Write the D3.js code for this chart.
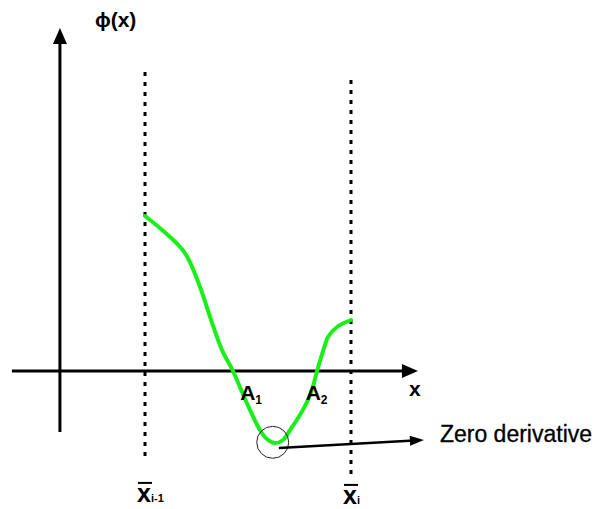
<!DOCTYPE html>
<html>
<head>
<meta charset="utf-8">
<script src="https://cdn.jsdelivr.net/npm/d3@7"></script>
<style>
  body { margin: 0; background: #fff; }
  text { font-family: "Liberation Sans", Arial, sans-serif; fill: #000; }
</style>
</head>
<body>
<div class="chart"></div>
<script>
const WIDTH = 595;
const HEIGHT = 509;

// curve phi(x) between x(i-1) = 0 and x(i) = 10
const curveX = [0, 0.83, 1.94, 2.67, 3.16, 3.74, 4.27, 4.71, 5.10, 5.58, 5.92, 6.31, 6.70, 7.04, 7.52, 7.91, 8.16, 8.35, 8.54, 8.74, 8.88, 9.32, 10];
const curvePhi = [10, 9.10, 7.61, 5.42, 3.48, 1.35, 0, -1.35, -2.52, -3.81, -4.39, -4.65, -4.45, -3.81, -2.84, -1.87, -0.97, 0, 0.84, 1.68, 2.19, 2.84, 3.29];

// axes and guides (data units)
const xAxisExtent = [-6.46, 13.25];
const yAxisAt = -4.13;
const yAxisExtent = [-3.94, 22.13];
const gridX = [0, 10];
const gridLabels = ["i-1", "i"];
const gridExtent = [[-5.87, 19.29], [-6.9, 18.77]];
const gridLabelPhi = [-7.22, -7.35];

// minimum marker + annotation arrow
const minPoint = [6.2, -4.6];
const arrowFrom = [6.5, -4.97];
const arrowTo = [13.54, -4.45];
const annotation = "Zero derivative";

// area labels
const areaLabels = [
  { name: "A", sub: "1", x: 4.62, phi: -1.9 },
  { name: "A", sub: "2", x: 7.8, phi: -1.9 }
];

const xScale = d3.scaleLinear().domain([0, 10]).range([145, 351]);
const yScale = d3.scaleLinear().domain([0, 10]).range([371, 216]);

const svg = d3.select(".chart").append("svg")
  .attr("width", WIDTH)
  .attr("height", HEIGHT);

// arrow head helper: tip at (x,y), pointing along angle
function arrowHead(g, x, y, angle, len, halfW) {
  const c = Math.cos(angle), s = Math.sin(angle);
  const bx = x - c * len, by = y - s * len;
  g.append("path")
    .attr("d", `M${x},${y}L${bx - s * halfW},${by + c * halfW}L${bx + s * halfW},${by - c * halfW}Z`)
    .attr("fill", "#000");
}

// dotted verticals
svg.append("g").selectAll("line")
  .data(gridX)
  .join("line")
  .attr("x1", d => xScale(d))
  .attr("x2", d => xScale(d))
  .attr("y1", (d, i) => yScale(gridExtent[i][1]))
  .attr("y2", (d, i) => yScale(gridExtent[i][0]))
  .attr("stroke", "#000")
  .attr("stroke-width", 3)
  .attr("stroke-dasharray", "4,6");

// axes
const axes = svg.append("g");
axes.append("line")
  .attr("x1", xScale(xAxisExtent[0])).attr("x2", xScale(xAxisExtent[1]) - 10)
  .attr("y1", yScale(0)).attr("y2", yScale(0))
  .attr("stroke", "#000").attr("stroke-width", 3);
arrowHead(axes, xScale(xAxisExtent[1]), yScale(0), 0, 16, 7);

axes.append("line")
  .attr("x1", xScale(yAxisAt)).attr("x2", xScale(yAxisAt))
  .attr("y1", yScale(yAxisExtent[0])).attr("y2", yScale(yAxisExtent[1]) + 10)
  .attr("stroke", "#000").attr("stroke-width", 3);
arrowHead(axes, xScale(yAxisAt), yScale(yAxisExtent[1]), -Math.PI / 2, 16, 7);

// curve
const pts = curveX.map((x, i) => [x, curvePhi[i]]);
svg.append("path")
  .datum(pts)
  .attr("d", d3.line().x(d => xScale(d[0])).y(d => yScale(d[1])).curve(d3.curveCatmullRom.alpha(0.5)))
  .attr("fill", "none")
  .attr("stroke", "#1bef1b")
  .attr("stroke-width", 4)
  .attr("stroke-linecap", "round");

// minimum circle
svg.append("circle")
  .attr("cx", xScale(minPoint[0]))
  .attr("cy", yScale(minPoint[1]))
  .attr("r", 16)
  .attr("fill", "none")
  .attr("stroke", "#222")
  .attr("stroke-width", 1);

// annotation arrow
const ax1 = xScale(arrowFrom[0]), ay1 = yScale(arrowFrom[1]);
const ax2 = xScale(arrowTo[0]), ay2 = yScale(arrowTo[1]);
const ang = Math.atan2(ay2 - ay1, ax2 - ax1);
svg.append("line")
  .attr("x1", ax1).attr("y1", ay1)
  .attr("x2", ax2 - Math.cos(ang) * 10).attr("y2", ay2 - Math.sin(ang) * 10)
  .attr("stroke", "#000").attr("stroke-width", 2.5);
arrowHead(svg, ax2, ay2, ang, 14, 5);

svg.append("text")
  .attr("x", ax2 + 16)
  .attr("y", ay2 + 2)
  .attr("font-size", 23)
  .attr("stroke", "#000")
  .attr("stroke-width", 0.3)
  .text(annotation);

// axis labels
svg.append("text")
  .attr("x", xScale(yAxisAt) + 35)
  .attr("y", 27)
  .attr("font-size", 21)
  .attr("font-weight", "bold")
  .text("\u03D5(x)");

svg.append("text")
  .attr("x", xScale(xAxisExtent[1]) - 9)
  .attr("y", yScale(0) + 25)
  .attr("font-size", 21)
  .attr("font-weight", "bold")
  .text("x");

// area labels
const al = svg.append("g").selectAll("text")
  .data(areaLabels)
  .join("text")
  .attr("x", d => xScale(d.x))
  .attr("y", d => yScale(d.phi));
al.append("tspan").attr("font-size", 21).attr("font-weight", "bold").text(d => d.name);
al.append("tspan").attr("font-size", 12).attr("font-weight", "bold").attr("dy", 4).text(d => d.sub);

// x-bar labels under the dotted lines
const gl = svg.append("g").selectAll("g")
  .data(gridX)
  .join("g")
  .attr("transform", (d, i) => `translate(${xScale(d) - 7},${yScale(gridLabelPhi[i])})`);
gl.append("line")
  .attr("x1", 0).attr("x2", 14)
  .attr("y1", 0).attr("y2", 0)
  .attr("stroke", "#000").attr("stroke-width", 2);
const glt = gl.append("text").attr("x", -1).attr("y", 19);
glt.append("tspan").attr("font-size", 25).attr("font-weight", "bold").text("x");
glt.append("tspan").attr("font-size", 11).attr("font-weight", "bold").attr("dy", 0).text((d, i) => gridLabels[i]);
</script>
</body>
</html>
